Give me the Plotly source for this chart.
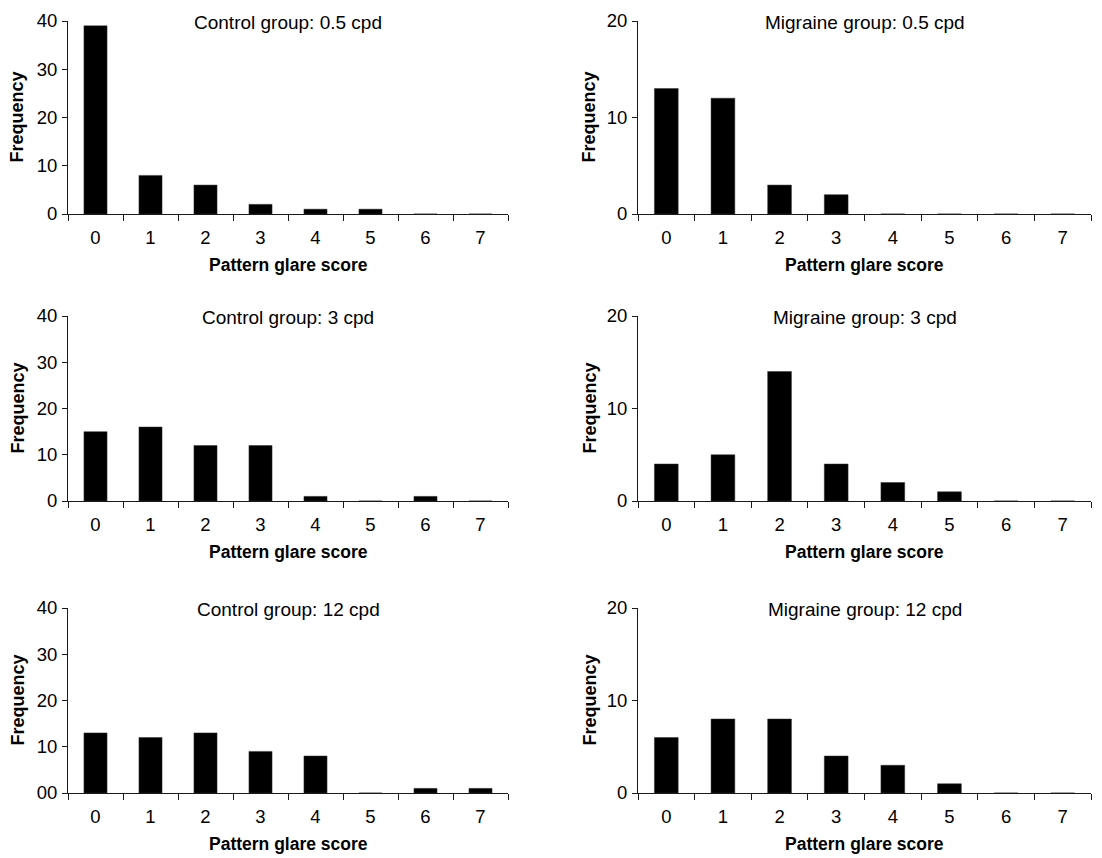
import plotly.graph_objects as go

scores = ["0", "1", "2", "3", "4", "5", "6", "7"]

control_05 = [39, 8, 6, 2, 1, 1, 0, 0]
control_3 = [15, 16, 12, 12, 1, 0, 1, 0]
control_12 = [13, 12, 13, 9, 8, 0, 1, 1]
migraine_05 = [13, 12, 3, 2, 0, 0, 0, 0]
migraine_3 = [4, 5, 14, 4, 2, 1, 0, 0]
migraine_12 = [6, 8, 8, 4, 3, 1, 0, 0]

titles = [
    "Control group: 0.5 cpd", "Migraine group: 0.5 cpd",
    "Control group: 3 cpd", "Migraine group: 3 cpd",
    "Control group: 12 cpd", "Migraine group: 12 cpd",
]
series = [control_05, migraine_05, control_3, migraine_3, control_12, migraine_12]

control_ticks = [0, 10, 20, 30, 40]
control_ticktext = ["0", "10", "20", "30", "40"]
control_ticktext_bottom = ["00", "10", "20", "30", "40"]
migraine_ticks = [0, 10, 20]
migraine_ticktext = ["0", "10", "20"]

OFF = 8  # default page body margin
W, H = 1102 - OFF, 858 - OFF
FONT = "Liberation Sans, Arial, sans-serif"
LINE = "#1a1a1a"

# screen-pixel layout of the panels (converted to figure coordinates below)
col_px = [(68, 508), (638, 1091)]
row_px = [(21, 214), (316, 501), (608, 793)]


def fx(px):
    return (px - OFF) / W


def fy(py):
    return 1 - (py - OFF) / H


fig = go.Figure()
annotations = []

for i, (vals, title) in enumerate(zip(series, titles)):
    r, c = divmod(i, 2)
    n = i + 1
    xa = "xaxis" if n == 1 else f"xaxis{n}"
    ya = "yaxis" if n == 1 else f"yaxis{n}"
    xref = "x" if n == 1 else f"x{n}"
    yref = "y" if n == 1 else f"y{n}"
    x0, x1 = col_px[c]
    y0, y1 = row_px[r]
    xdom = [fx(x0), fx(x1)]
    ydom = [fy(y1), fy(y0)]

    fig.add_trace(go.Bar(
        x=scores, y=vals, xaxis=xref, yaxis=yref,
        marker=dict(color="black", line=dict(color="#333", width=0.5)),
        width=0.42, showlegend=False,
    ))

    if c == 0:
        ymax = 40
        tv = control_ticks
        tt = control_ticktext_bottom if r == 2 else control_ticktext
    else:
        ymax = 20
        tv = migraine_ticks
        tt = migraine_ticktext

    fig.update_layout({
        xa: dict(
            domain=xdom, anchor=yref, type="category",
            categoryorder="array", categoryarray=scores,
            range=[-0.5, 7.5], tickson="boundaries",
            ticks="outside", ticklen=6, tickwidth=1, tickcolor=LINE,
            showline=True, linecolor=LINE, linewidth=1,
            showgrid=False, zeroline=False, automargin=False,
            tickfont=dict(family=FONT, size=18.5, color="black"),
            ticklabelstandoff=7,
        ),
        ya: dict(
            domain=ydom, anchor=xref, range=[0, ymax],
            tickvals=tv, ticktext=tt,
            ticks="outside", ticklen=5, tickwidth=1, tickcolor=LINE,
            showline=True, linecolor=LINE, linewidth=1,
            showgrid=False, zeroline=False, automargin=False,
            tickfont=dict(family=FONT, size=18.5, color="black"),
            ticklabelstandoff=1,
        ),
    })

    xc = fx((x0 + x1) / 2)
    # panel title
    annotations.append(dict(
        text=title, x=xc, y=fy(y0 + 1), xref="paper", yref="paper",
        xanchor="center", yanchor="middle", showarrow=False,
        font=dict(family=FONT, size=19, color="black"),
    ))
    # x axis title
    annotations.append(dict(
        text="<b>Pattern glare score</b>", x=xc, y=fy(y1 + 51),
        xref="paper", yref="paper", xanchor="center", yanchor="middle",
        showarrow=False, font=dict(family=FONT, size=17.5, color="black"),
    ))
    # y axis title
    tx = 17 if c == 0 else 589
    annotations.append(dict(
        text="<b>Frequency</b>", x=fx(tx), y=fy((y0 + y1) / 2),
        xref="paper", yref="paper", xanchor="center", yanchor="middle",
        textangle=-90, showarrow=False,
        font=dict(family=FONT, size=18, color="black"),
    ))

fig.update_layout(
    width=W, height=H,
    margin=dict(l=0, r=0, t=0, b=0, autoexpand=False),
    paper_bgcolor="white", plot_bgcolor="white",
    annotations=annotations,
    bargap=0.58,
)

fig.write_html("out.html")
